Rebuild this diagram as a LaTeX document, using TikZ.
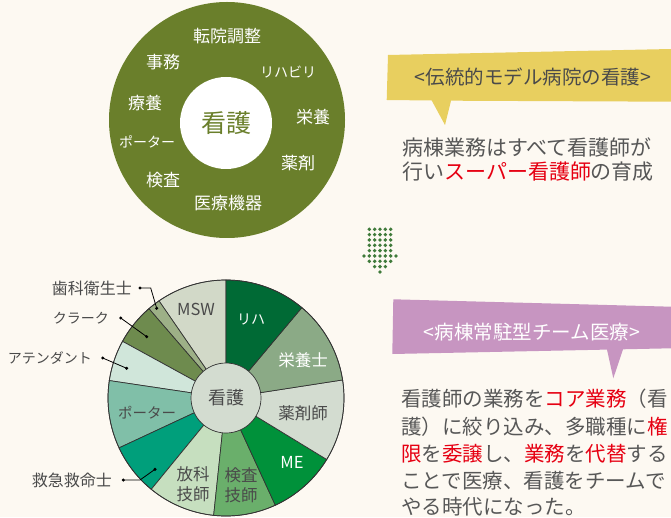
\documentclass[tikz,border=0pt]{standalone}
\usepackage{fontspec}
\setmainfont{Noto Sans CJK JP}
\definecolor{bg}{HTML}{FDF9F2}
\definecolor{oliveC}{HTML}{6A7F2B}
\definecolor{yellowC}{HTML}{E8CF5F}
\definecolor{purpleC}{HTML}{C795C1}
\definecolor{greyT}{HTML}{575757}
\definecolor{darkT}{HTML}{4A4A4A}
\definecolor{redT}{HTML}{E60012}
\definecolor{dotC}{HTML}{3F7A3A}
\definecolor{cMSW}{HTML}{D2D9C8}
\definecolor{cRiha}{HTML}{006A35}
\definecolor{cEiyo}{HTML}{8BAA86}
\definecolor{cYaku}{HTML}{D3DCD0}
\definecolor{cME}{HTML}{00913A}
\definecolor{cKen}{HTML}{6AAF6B}
\definecolor{cHo}{HTML}{C6DFBF}
\definecolor{cKyu}{HTML}{009F7B}
\definecolor{cPo}{HTML}{80BFA8}
\definecolor{cAt}{HTML}{D0E6DA}
\definecolor{cKu}{HTML}{6E8B4E}
\definecolor{cShi}{HTML}{9DB087}
\definecolor{cCen}{HTML}{D3DCD0}
\begin{document}
\begin{tikzpicture}[x=1pt,y=1pt,
  toplbl/.style={font=\fontsize{17}{17}\selectfont, text=white, inner sep=0pt},
  topkata/.style={font=\fontsize{14}{14}\selectfont, text=white, inner sep=0pt},
  pielbl/.style={font=\fontsize{16.5}{20}\selectfont, text=darkT, inner sep=0pt, align=center},
  piewhite/.style={pielbl, text=white},
  outlbl/.style={font=\fontsize{16}{16}\selectfont, text=darkT, inner sep=0pt, anchor=east},
  outkata/.style={font=\fontsize{14}{14}\selectfont, text=darkT, inner sep=0pt, anchor=east},
  segline/.style={draw=black!80, line width=0.7pt},
  leader/.style={draw=black, line width=0.8pt},
  bodytxt/.style={font=\fontsize{21}{21}\selectfont, text=greyT, inner sep=0pt, anchor=west},
  bodytxtb/.style={font=\fontsize{20.5}{20.5}\selectfont, text=greyT, inner sep=0pt, anchor=west},
  headtxt/.style={font=\fontsize{19.5}{19.5}\selectfont, inner sep=0pt}
]
\fill[bg] (0,0) rectangle (671,517);
\useasboundingbox (0,0) rectangle (671,517);

% ---------- top circle ----------
\fill[oliveC] (227,397) circle[radius=118];
\node[circle, fill=white, minimum size=92pt, inner sep=0pt,
      font=\fontsize{25}{25}\selectfont, text=oliveC] (topC) at (226,394) {看護};
\node[toplbl] (t1) at (227,481) {転院調整};
\node[toplbl] (t2) at (163,455) {事務};
\node[topkata] (t3) at (288,445) {リハビリ};
\node[toplbl] (t4) at (145,414) {療養};
\node[toplbl] (t5) at (313,400) {栄養};
\node[topkata] (t6) at (147,375) {ポーター};
\node[toplbl] (t7) at (298,354) {薬剤};
\node[toplbl] (t8) at (163,337) {検査};
\node[toplbl] (t9) at (228,314) {医療機器};

% ---------- callout 1 ----------
\fill[yellowC] (388,462) -- (671,468) -- (671,415.3) -- (451,416.3) -- (445,392)
  -- (431.7,416.5) -- (386.7,417) -- cycle;
\node[headtxt, text=darkT] (h1) at (533,440) {<伝統的モデル病院の看護>};
\node[bodytxt] (b1) at (402,370) {病棟業務はすべて看護師が};
\node[bodytxt] (b2) at (402,345) {行い\textcolor{redT}{スーパー看護師}の育成};

% ---------- dotted arrow ----------
\foreach \k in {0,...,5}{
  \foreach \i in {-2,...,2}{
    \fill[dotC] ({380+5.33*\i},{287.7-5.33*\k}) circle[radius=1.9];
  }
}
\foreach \i in {-3,3}{\fill[dotC] ({380+5.33*\i},{287.7-5.33*5}) circle[radius=1.9];}
\foreach \i in {-2,...,2}{\fill[dotC] ({380+5.33*\i},{287.7-5.33*6}) circle[radius=1.9];}
\foreach \i in {-1,...,1}{\fill[dotC] ({380+5.33*\i},{287.7-5.33*7}) circle[radius=1.9];}
\fill[dotC] (380,{287.7-5.33*8}) circle[radius=1.9];

% ---------- callout 2 ----------
\fill[purpleC] (393.3,217.7) -- (671,210.3) -- (671,168.7) -- (623,167.7) -- (613.3,138.7)
  -- (607,167.4) -- (392.3,163) -- cycle;
\node[headtxt, text=white] (h2) at (532,185) {<病棟常駐型チーム医療>};
\node[bodytxtb] (c1) at (401,118.7) {看護師の業務を\textcolor{redT}{コア業務}（看};
\node[bodytxtb] (c2) at (401,90.5) {護）に絞り込み、多職種に\textcolor{redT}{権}};
\node[bodytxtb] (c3) at (401,63) {\textcolor{redT}{限}を\textcolor{redT}{委譲}し、\textcolor{redT}{業務}を\textcolor{redT}{代替}する};
\node[bodytxtb] (c4) at (401,36.3) {ことで医療、看護をチームで};
\node[bodytxtb] (c5) at (401,10.3) {やる時代になった。};

% ---------- pie ----------
\coordinate (pc) at (226,119);
\foreach \a/\b/\c in {90/124.6/cMSW, 124.6/130.8/cShi, 130.8/151.3/cKu, 151.3/171.5/cAt,
  171.5/205/cPo, 205/230.7/cKyu, 230.7/264/cHo, 264/294.7/cKen, 294.7/328.6/cME,
  328.6/368.8/cYaku, 8.8/50/cEiyo, 50/90/cRiha}{
  \filldraw[segline, fill=\c] (pc) -- ++(\a:118) arc[start angle=\a, end angle=\b, radius=118] -- cycle;
}
\draw[segline] (pc) circle[radius=118];
\node[circle, fill=cCen, draw=black!80, line width=0.7pt, minimum size=70pt, inner sep=0pt,
      font=\fontsize{18}{18}\selectfont, text=darkT] (pieC) at (pc) {看護};
\node[pielbl] (p1) at (196,208) {MSW};
\node[piewhite, font=\fontsize{14}{14}\selectfont] (p2) at (251,198) {リハ};
\node[piewhite] (p3) at (303,157) {栄養士};
\node[pielbl] (p4) at (303,104) {薬剤師};
\node[piewhite] (p5) at (292,55) {ME};
\node[pielbl] (p6) at (241,32) {検査\\技師};
\node[pielbl] (p7) at (193,33) {放科\\技師};
\node[pielbl, font=\fontsize{14.5}{14.5}\selectfont] (p8) at (147,104) {ポーター};

% ---------- outside labels ----------
\node[outlbl] (o1) at (132,229) {歯科衛生士};
\node[outkata] (o2) at (109,199) {クラーク};
\node[outkata] (o3) at (92,159) {アテンダント};
\node[outlbl] (o4) at (112,37) {救急救命士};

\coordinate (l1a) at (140,229); \coordinate (l1m) at (150.7,229); \coordinate (l1b) at (156.7,208.7);
\coordinate (l2a) at (120.7,199); \coordinate (l2b) at (146.7,180.3);
\coordinate (l3a) at (102.7,159); \coordinate (l3b) at (126.7,148.7);
\coordinate (l4a) at (123.3,37); \coordinate (l4m) at (140,37); \coordinate (l4b) at (155,47.7);
\draw[leader] (l1a) -- (l1m) -- (l1b);
\draw[leader] (l2a) -- (l2b);
\draw[leader] (l3a) -- (l3b);
\draw[leader] (l4a) -- (l4m) -- (l4b);
\foreach \p in {l1a,l1b,l2a,l2b,l3a,l3b,l4a,l4b}{\fill[black] (\p) circle[radius=1.7];}
\end{tikzpicture}
\end{document}
